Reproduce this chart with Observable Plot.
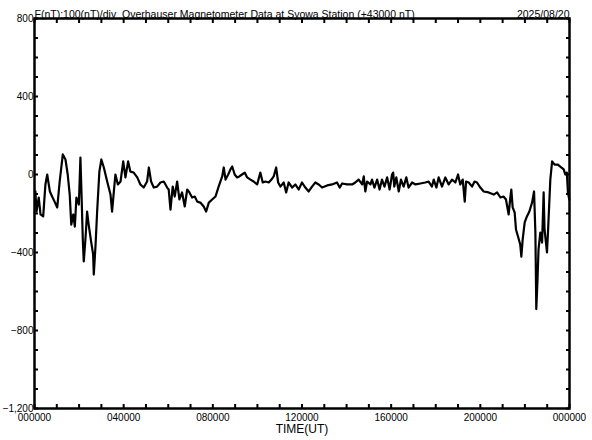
<!DOCTYPE html>
<html><head><meta charset="utf-8">
<script src="https://cdn.jsdelivr.net/npm/d3@7"></script>
<script src="https://cdn.jsdelivr.net/npm/@observablehq/plot@0.6"></script>
<style>body{margin:0;background:#fff} svg{display:block}</style>
</head><body><div id="chart"></div>
<script>
// Time of day (hours, UT) and total field F minus 43000 nT
const hours = [0.04,0.09,0.19,0.27,0.39,0.49,0.57,0.69,0.79,0.90,1.02,1.13,1.27,1.39,1.49,1.58,1.65,1.74,1.81,1.88,1.99,2.06,2.11,2.17,2.21,2.29,2.36,2.43,2.54,2.63,2.66,2.74,2.81,2.91,3.00,3.11,3.26,3.41,3.48,3.56,3.63,3.74,3.86,3.98,4.08,4.20,4.30,4.45,4.61,4.75,4.90,5.05,5.13,5.23,5.35,5.50,5.65,5.80,5.95,6.02,6.10,6.20,6.29,6.40,6.50,6.62,6.74,6.85,6.95,7.07,7.19,7.30,7.44,7.59,7.70,7.82,7.97,8.12,8.26,8.42,8.49,8.57,8.69,8.79,8.87,8.98,9.09,9.19,9.31,9.43,9.54,9.69,9.83,9.99,10.13,10.24,10.36,10.51,10.63,10.73,10.84,10.93,11.03,11.18,11.29,11.40,11.56,11.70,11.85,12.00,12.15,12.30,12.45,12.60,12.75,12.90,13.13,13.35,13.57,13.69,13.80,14.02,14.25,14.39,14.54,14.70,14.77,14.84,14.92,15.07,15.14,15.25,15.37,15.48,15.59,15.70,15.82,15.93,16.04,16.09,16.14,16.23,16.34,16.44,16.56,16.68,16.78,16.94,17.09,17.31,17.53,17.68,17.83,17.91,18.03,18.13,18.28,18.43,18.58,18.73,18.88,19.00,19.10,19.21,19.30,19.36,19.48,19.63,19.74,19.85,20.00,20.15,20.37,20.60,20.75,20.90,21.04,21.15,21.27,21.35,21.39,21.45,21.54,21.60,21.69,21.79,21.84,21.90,21.99,22.09,22.20,22.32,22.41,22.47,22.51,22.56,22.61,22.69,22.77,22.84,22.88,22.99,23.04,23.14,23.22,23.33,23.48,23.63,23.74,23.81,23.88,23.93,23.99];
const fValues = [-87,-190,-118,-205,-215,-51,0,-87,-113,-139,-169,-36,103,77,0,-103,-257,-205,-267,-118,-154,87,-103,-344,-446,-323,-190,-257,-344,-410,-513,-359,-190,15,77,36,-36,-103,-190,-87,0,-51,-36,67,-15,67,15,10,-15,-51,-67,-36,36,-36,-67,-62,-41,-36,-67,-77,-180,-62,-113,-36,-128,-92,-164,-77,-92,-118,-113,-139,-144,-164,-190,-144,-128,-113,-62,-10,36,-26,0,26,41,0,-15,-10,0,10,-15,-26,-36,-51,10,-41,-36,-41,-26,-10,36,-41,-62,-41,-92,-41,-67,-51,-77,-41,-67,-87,-62,-41,-51,-67,-56,-51,-41,-67,-46,-51,-51,-41,-26,-51,-10,-87,-36,-51,-26,-67,-26,-77,-26,-62,-15,-77,0,10,-62,-15,-87,-26,-62,-15,-67,-41,-51,-46,-41,-36,-62,-26,-67,-15,-62,-15,-51,-26,-41,0,-51,-26,-139,-36,-41,-62,-36,-41,-67,-87,-92,-103,-92,-118,-113,-128,-205,-113,-77,-169,-195,-282,-318,-359,-421,-333,-246,-215,-190,-144,-87,-298,-690,-554,-385,-298,-349,-92,-282,-400,-282,-26,67,51,51,36,26,0,10,-92,-128];

const yLabelValues = [800, 400, 0, -400, -800, -1200];
const xLabelHours = [0, 4, 8, 12, 16, 20, 24];
const xLabelTexts = ["000000", "040000", "080000", "120000", "160000", "200000", "000000"];
const titleText = "F(nT):100(nT)/div  Overhauser Magnetometer Data at Syowa Station (+43000 nT)";
const dateText = "2025/08/20";
const xTitle = "TIME(UT)";

const data = hours.map((h, i) => ({h, v: fValues[i]}));
const minorX = d3.range(0, 25, 1);
const minorY = d3.range(-1200, 801, 100);

const chart = Plot.plot({
  width: 592, height: 440,
  marginLeft: 34, marginRight: 23, marginTop: 18, marginBottom: 32,
  style: {fontFamily: "'Liberation Sans', Arial, sans-serif", fontSize: "10px", background: "#fff", color: "#000", overflow: "visible"},
  x: {domain: [0, 24]},
  y: {domain: [-1200, 800]},
  marks: [
    Plot.lineY(data, {x: "h", y: "v", stroke: "#000", strokeWidth: 2.2, strokeLinejoin: "round"}),
    Plot.axisX(minorX, {anchor: "bottom", tickSize: -4, fill: "none", stroke: "#000", strokeWidth: 2}),
    Plot.axisX(minorX, {anchor: "top", tickSize: -4, fill: "none", stroke: "#000", strokeWidth: 2}),
    Plot.axisY(minorY, {anchor: "left", tickSize: -4, fill: "none", stroke: "#000", strokeWidth: 2}),
    Plot.axisY(minorY, {anchor: "right", tickSize: -4, fill: "none", stroke: "#000", strokeWidth: 2}),
    Plot.axisX(xLabelHours, {anchor: "bottom", tickSize: 0, tickPadding: 5, label: null, fontSize: 10,
      tickFormat: d => xLabelTexts[xLabelHours.indexOf(d)]}),
    Plot.axisY(yLabelValues, {anchor: "left", tickSize: 0, tickPadding: 1, label: null, fontSize: 10}),
    Plot.frame({stroke: "#000", strokeWidth: 2.5}),
    Plot.text([titleText], {frameAnchor: "top-left", dy: -8, textAnchor: "start", fontSize: 10.5}),
    Plot.text([dateText], {frameAnchor: "top-right", dy: -8, textAnchor: "end", fontSize: 10.5}),
    Plot.text([xTitle], {frameAnchor: "bottom", dy: 24, fontSize: 12})
  ]
});
document.getElementById("chart").appendChild(chart);
</script>
</body></html>
